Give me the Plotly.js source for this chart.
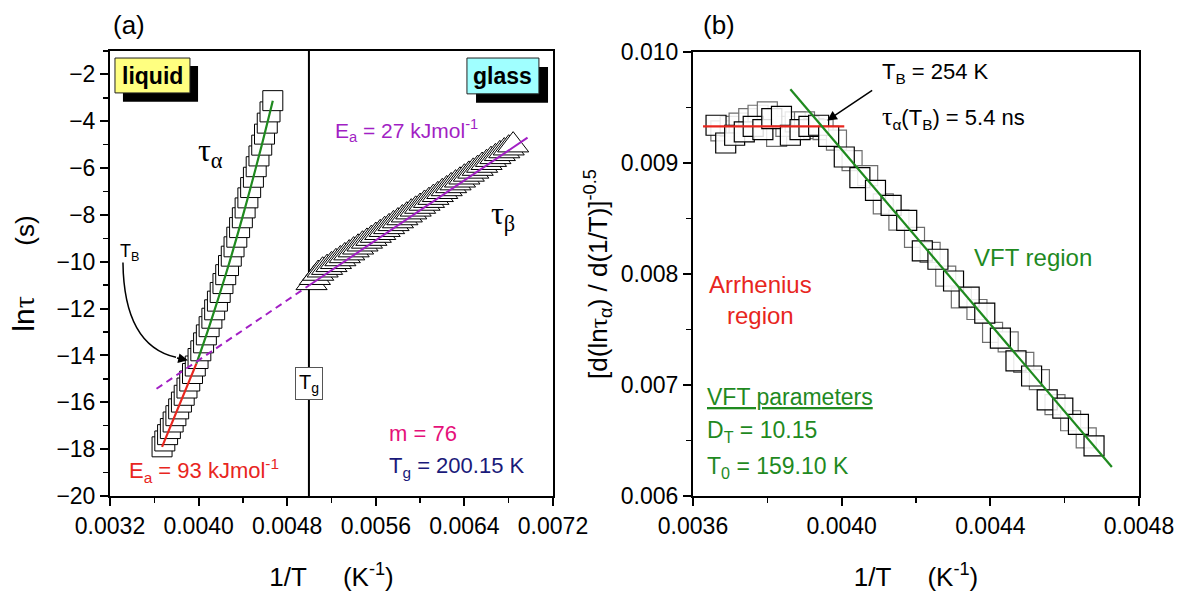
<!DOCTYPE html>
<html>
<head>
<meta charset="utf-8">
<script src="https://cdn.plot.ly/plotly-3.0.1.min.js"></script>
<style>html,body{margin:0;padding:0;background:#fff;}#chart{width:1185px;height:596px;}</style>
</head>
<body>
<div id="chart"></div>
<script>
// ---------- Panel (a): ln tau vs 1/T ----------
const tauAlphaX = [0.003670,0.003695,0.003720,0.003745,0.003770,0.003795,0.003820,0.003845,0.003870,0.003895,
  0.003920,0.003945,0.003970,0.003995,0.004020,0.004045,0.004070,0.004095,0.004120,0.004145,
  0.004170,0.004195,0.004220,0.004245,0.004270,0.004295,0.004320,0.004345,0.004370,0.004395,
  0.004420,0.004445,0.004470,0.004495,0.004520,0.004545,0.004570,0.004595,0.004620,0.004645,0.004670];
const tauAlphaY = [-17.90,-17.65,-17.38,-17.12,-16.84,-16.57,-16.28,-15.99,-15.70,-15.39,
  -15.09,-14.77,-14.45,-14.13,-13.80,-13.46,-13.12,-12.77,-12.41,-12.05,
  -11.68,-11.31,-10.93,-10.55,-10.16,-9.76,-9.36,-8.95,-8.54,-8.12,
  -7.70,-7.27,-6.83,-6.39,-5.94,-5.48,-5.02,-4.55,-4.08,-3.60,-3.12];

const tauBetaX = [0.00502,0.00505,0.00508,0.00512,
  0.00516,0.00520,0.00524,0.00528,0.00532,0.00536,0.00540,0.00544,0.00548,0.00552,
  0.00556,0.00560,0.00564,0.00568,0.00572,0.00576,0.00580,0.00584,0.00588,0.00592,
  0.00596,0.00600,0.00604,0.00608,0.00612,0.00616,0.00620,0.00624,0.00628,0.00632,
  0.00636,0.00640,0.00644,0.00648,0.00652,0.00656,0.00660,0.00664,0.00668,0.00672,
  0.00676,0.00680,0.00684];
const tauBetaY = [-10.90,-10.68,-10.50,-10.36,
  -10.25,-10.13,-10.00,-9.88,-9.75,-9.63,-9.50,-9.38,-9.25,-9.13,
  -9.01,-8.88,-8.76,-8.63,-8.51,-8.38,-8.26,-8.13,-8.01,-7.88,
  -7.76,-7.64,-7.51,-7.39,-7.26,-7.14,-7.01,-6.89,-6.76,-6.64,
  -6.52,-6.39,-6.27,-6.14,-6.02,-5.89,-5.77,-5.64,-5.52,-5.39,
  -5.27,-5.15,-5.02];

const alphaVftX = [0.00398,0.00410,0.00425,0.00440,0.00455,0.00467];
const alphaVftY = [-14.35,-12.70,-10.47,-8.03,-5.39,-3.12];
const alphaArrX = [0.00367,0.00398];
const alphaArrY = [-17.90,-14.35];
const betaDashX = [0.00362,0.00500];
const betaDashY = [-15.42,-11.00];
const betaSolidX = [0.00500,0.00697];
const betaSolidY = [-11.00,-4.70];
const Tg = 200.15;

const xTicksA = [0.0032,0.0040,0.0048,0.0056,0.0064,0.0072];
const yTicksA = [-20,-18,-16,-14,-12,-10,-8,-6,-4,-2];

// ---------- Panel (b): derivative analysis ----------
const derivBlackX = [0.003662,0.003688,0.003712,0.003738,0.003762,0.003788,0.003812,0.003838,0.003862,0.003888,0.003912,0.003938,
  0.003965,0.004007,0.004049,0.004091,0.004133,0.004175,0.004217,0.004259,0.004301,0.004343,0.004385,0.004427,0.004469,0.004511,0.004553,0.004595,0.004637,0.004679];
const derivBlackY = [0.009340,0.009180,0.009250,0.009280,0.009330,0.009300,0.009400,0.009420,0.009250,0.009300,0.009330,0.009340,
  0.009239,0.009054,0.008869,0.008753,0.008618,0.008483,0.008208,0.008133,0.007937,0.007792,0.007647,0.007422,0.007217,0.007081,0.006866,0.006791,0.006646,0.006451];
const derivGrayX = [0.003675,0.003700,0.003724,0.003750,0.003775,0.003800,0.003825,0.003850,0.003875,0.003900,0.003925,0.003950,
  0.003986,0.004028,0.004070,0.004112,0.004154,0.004196,0.004238,0.004280,0.004322,0.004364,0.004406,0.004448,0.004490,0.004532,0.004574,0.004616,0.004658];
const derivGrayY = [0.009290,0.009330,0.009360,0.009400,0.009430,0.009460,0.009240,0.009330,0.009370,0.009370,0.009310,0.009300,
  0.009206,0.009021,0.008886,0.008631,0.008486,0.008330,0.008195,0.007980,0.007785,0.007680,0.007474,0.007389,0.007204,0.007049,0.006824,0.006678,0.006523];
const vftFitX = [0.003862,0.004727];
const vftFitY = [0.009664,0.006261];
const arrFitX = [0.003627,0.004007];
const arrFitY = [0.00933,0.00933];

const xTicksB = [0.0036,0.0040,0.0044,0.0048];
const yTicksB = [0.006,0.007,0.008,0.009,0.010];

// ---------- styles ----------
const NARROW = "'Liberation Sans Narrow','Arial Narrow','Liberation Sans',Arial,sans-serif";
const SANS = "'Liberation Sans',Arial,sans-serif";
const GREEN = '#1f8a1f';
const RED = '#e8261e';
const PURPLE = '#a21fc4';

const traces = [
  {x: tauAlphaX, y: tauAlphaY, xaxis:'x', yaxis:'y', type:'scatter', mode:'markers',
   marker:{symbol:'square', size:20, color:'white', line:{color:'black', width:1}}},
  {x: tauBetaX, y: tauBetaY, xaxis:'x', yaxis:'y', type:'scatter', mode:'markers',
   marker:{symbol:'triangle-up', size:27, color:'white', line:{color:'black', width:1}}},
  {x: alphaVftX, y: alphaVftY, xaxis:'x', yaxis:'y', type:'scatter', mode:'lines',
   line:{color:GREEN, width:2.2, shape:'spline'}},
  {x: alphaArrX, y: alphaArrY, xaxis:'x', yaxis:'y', type:'scatter', mode:'lines',
   line:{color:RED, width:2.2}},
  {x: betaDashX, y: betaDashY, xaxis:'x', yaxis:'y', type:'scatter', mode:'lines',
   line:{color:PURPLE, width:2, dash:'7px,5px'}},
  {x: betaSolidX, y: betaSolidY, xaxis:'x', yaxis:'y', type:'scatter', mode:'lines',
   line:{color:PURPLE, width:2}},
  {x: derivGrayX, y: derivGrayY, xaxis:'x2', yaxis:'y2', type:'scatter', mode:'markers',
   marker:{symbol:'square', size:20, color:'rgba(255,255,255,0.85)', line:{color:'#6e6e6e', width:1.2}}},
  {x: derivBlackX, y: derivBlackY, xaxis:'x2', yaxis:'y2', type:'scatter', mode:'markers',
   marker:{symbol:'square', size:20, color:'rgba(255,255,255,0.85)', line:{color:'black', width:1.2}}},
  {x: arrFitX, y: arrFitY, xaxis:'x2', yaxis:'y2', type:'scatter', mode:'lines',
   line:{color:RED, width:2.2}},
  {x: vftFitX, y: vftFitY, xaxis:'x2', yaxis:'y2', type:'scatter', mode:'lines',
   line:{color:GREEN, width:2.2}}
];

const axBase = {
  showline:true, linewidth:2, linecolor:'black', mirror:true,
  showgrid:false, zeroline:false, ticks:'outside', ticklen:8, tickwidth:2, tickcolor:'black'
};
const nb = '\u00a0';

const layout = {
  width:1185, height:596, margin:{l:0, r:0, t:0, b:0},
  paper_bgcolor:'white', plot_bgcolor:'white', showlegend:false,
  font:{family:SANS, color:'black'},
  xaxis: Object.assign({}, axBase, {
    domain:[110/1185, 553/1185], range:[0.0032,0.0072], anchor:'y',
    tickmode:'array', tickvals:xTicksA, tickformat:'.4f',
    minor:{ticks:'outside', dtick:0.0004, tick0:0.0032, ticklen:5, tickwidth:1.5, tickcolor:'black'},
    tickfont:{family:NARROW, size:23},
    title:{text:'1/T'+nb+nb+nb+nb+nb+'(K<sup>-1</sup>)', font:{family:SANS, size:26}, standoff:30}
  }),
  yaxis: Object.assign({}, axBase, {
    domain:[1-496/596, 1-51/596], range:[-20,-1], anchor:'x',
    tickmode:'array', tickvals:yTicksA,
    minor:{ticks:'outside', dtick:1, tick0:0, ticklen:5, tickwidth:1.5, tickcolor:'black'},
    tickfont:{family:NARROW, size:23},
    title:{text:'<span style="font-size:30px">ln<span style="font-family:Liberation Serif">τ</span></span>'+nb+nb+nb+nb+nb+nb+nb+'(s)', font:{family:SANS, size:26}, standoff:14}
  }),
  xaxis2: Object.assign({}, axBase, {
    domain:[693/1185, 1139/1185], range:[0.0036,0.0048], anchor:'y2',
    tickmode:'array', tickvals:xTicksB, tickformat:'.4f',
    minor:{ticks:'outside', dtick:0.0002, tick0:0.0036, ticklen:5, tickwidth:1.5, tickcolor:'black'},
    tickfont:{family:NARROW, size:23},
    title:{text:'1/T'+nb+nb+nb+nb+nb+'(K<sup>-1</sup>)', font:{family:SANS, size:26}, standoff:30}
  }),
  yaxis2: Object.assign({}, axBase, {
    domain:[1-496/596, 1-52/596], range:[0.006,0.010], anchor:'x2',
    tickmode:'array', tickvals:yTicksB, tickformat:'.3f',
    minor:{ticks:'outside', dtick:0.0005, tick0:0.006, ticklen:5, tickwidth:1.5, tickcolor:'black'},
    tickfont:{family:SANS, size:23},
    title:{text:'[d(ln<span style="font-family:Liberation Serif">τ</span><sub>α</sub>) / d(1/T)]<sup>-0.5</sup>', font:{family:SANS, size:26}, standoff:6}
  }),
  shapes: [
    {type:'line', xref:'x', yref:'y domain', x0:1/Tg, x1:1/Tg, y0:0, y1:1, line:{color:'black', width:2}, layer:'below'},
    // liquid box + shadow
    {type:'rect', xref:'x', yref:'y', x0:0.003317, x1:0.003995, y0:-3.17, y1:-1.64, fillcolor:'black', line:{width:0}, layer:'above'},
    {type:'rect', xref:'x', yref:'y', x0:0.003245, x1:0.003922, y0:-2.79, y1:-1.30, fillcolor:'#ffff80', line:{color:'#222', width:1}, layer:'above'},
    // glass box + shadow
    {type:'rect', xref:'x', yref:'y', x0:0.006505, x1:0.007155, y0:-3.21, y1:-1.68, fillcolor:'black', line:{width:0}, layer:'above'},
    {type:'rect', xref:'x', yref:'y', x0:0.006423, x1:0.007073, y0:-2.83, y1:-1.30, fillcolor:'#a0ffff', line:{color:'#222', width:1}, layer:'above'},
    // curved T_B arrow
    {type:'path', xref:'x', yref:'y', path:'M 0.003317,-10.03 Q 0.003326,-13.57 0.003796,-14.08', line:{color:'black', width:1.5}, layer:'above'}
  ],
  annotations: [
    {xref:'paper', yref:'paper', x:129/1185, y:1-25/596, text:'(a)', showarrow:false, font:{size:26}, xanchor:'center', yanchor:'middle'},
    {xref:'paper', yref:'paper', x:719/1185, y:1-25/596, text:'(b)', showarrow:false, font:{size:26}, xanchor:'center', yanchor:'middle'},
    {xref:'x', yref:'y', x:0.0035835, y:-2.05, text:'<b>liquid</b>', showarrow:false, font:{size:23}, xanchor:'center', yanchor:'middle'},
    {xref:'x', yref:'y', x:0.006748, y:-2.07, text:'<b>glass</b>', showarrow:false, font:{size:23}, xanchor:'center', yanchor:'middle'},
    {xref:'x', yref:'y', x:0.004103, y:-5.34, text:'<span style="font-family:Liberation Serif">τ<sub>α</sub></span>', showarrow:false, font:{size:32}, xanchor:'center', yanchor:'middle'},
    {xref:'x', yref:'y', x:0.006748, y:-8.03, text:'<span style="font-family:Liberation Serif">τ<sub>β</sub></span>', showarrow:false, font:{size:32}, xanchor:'center', yanchor:'middle'},
    {xref:'x', yref:'y', x:0.005213, y:-4.41, text:'E<sub>a</sub> = 27 kJmol<sup>-1</sup>', showarrow:false, font:{size:21, color:PURPLE}, xanchor:'left', yanchor:'middle'},
    {xref:'x', yref:'y', x:0.003372, y:-9.60, text:'T<sub>B</sub>', showarrow:false, font:{size:18}, xanchor:'center', yanchor:'middle'},
    {xref:'x', yref:'y', x:0.003904, y:-14.205, ax:-14, ay:-3, text:' ', showarrow:true, arrowhead:2, arrowsize:1.3, arrowwidth:1.5, arrowcolor:'black'},
    {xref:'x', yref:'y', x:1/Tg, y:-15.19, text:'T<sub>g</sub>', showarrow:false, font:{size:20}, bgcolor:'white', bordercolor:'#555', borderwidth:1, borderpad:3, xanchor:'center', yanchor:'middle'},
    {xref:'x', yref:'y', x:0.003353, y:-18.93, text:'E<sub>a</sub> = 93 kJmol<sup>-1</sup>', showarrow:false, font:{size:22, color:RED}, xanchor:'left', yanchor:'middle'},
    {xref:'x', yref:'y', x:0.005701, y:-17.32, text:'m = 76', showarrow:false, font:{size:22, color:'#e5107a'}, xanchor:'left', yanchor:'middle'},
    {xref:'x', yref:'y', x:0.005701, y:-18.76, text:'T<sub>g</sub> = 200.15 K', showarrow:false, font:{size:22, color:'#1a1a7a'}, xanchor:'left', yanchor:'middle'},
    // panel b
    {xref:'x2', yref:'y2', x:0.004104, y:0.009811, text:'T<sub>B</sub> = 254 K', showarrow:false, font:{size:22}, xanchor:'left', yanchor:'middle'},
    {xref:'x2', yref:'y2', x:0.004104, y:0.009414, text:'<span style="font-family:Liberation Serif;font-size:26px">τ</span><sub>α</sub>(T<sub>B</sub>) = 5.4 ns', showarrow:false, font:{size:22}, xanchor:'left', yanchor:'middle'},
    {xref:'x2', yref:'y2', x:0.003961, y:0.009383, ax:48, ay:-32, text:' ', showarrow:true, arrowhead:2, arrowsize:1.3, arrowwidth:1.5, arrowcolor:'black'},
    {xref:'x2', yref:'y2', x:0.003781, y:0.007766, text:'Arrhenius<br>region', showarrow:false, font:{size:24, color:RED}, xanchor:'center', yanchor:'middle'},
    {xref:'x2', yref:'y2', x:0.004514, y:0.008153, text:'VFT region', showarrow:false, font:{size:24, color:GREEN}, xanchor:'center', yanchor:'middle'},
    {xref:'x2', yref:'y2', x:0.003632, y:0.006892, text:'VFT parameters', showarrow:false, font:{size:23, color:GREEN, lineposition:'under'}, xanchor:'left', yanchor:'middle'},
    {xref:'x2', yref:'y2', x:0.003632, y:0.006577, text:'D<sub>T</sub> = 10.15', showarrow:false, font:{size:23, color:GREEN}, xanchor:'left', yanchor:'middle'},
    {xref:'x2', yref:'y2', x:0.003632, y:0.006261, text:'T<sub>0</sub> = 159.10 K', showarrow:false, font:{size:23, color:GREEN}, xanchor:'left', yanchor:'middle'}
  ]
};

Plotly.newPlot('chart', traces, layout, {staticPlot:true, displayModeBar:false});
</script>
</body>
</html>
